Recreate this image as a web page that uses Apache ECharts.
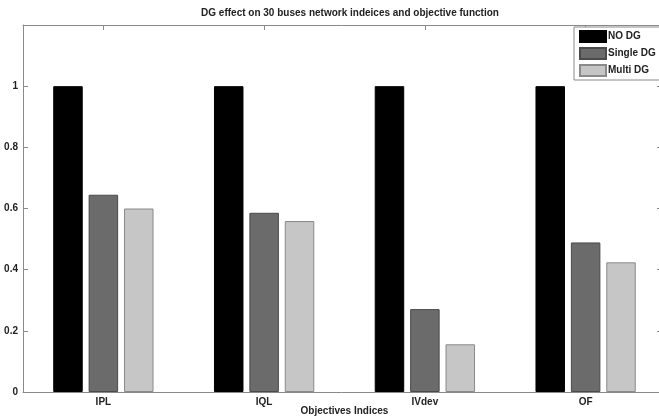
<!DOCTYPE html>
<html>
<head>
<meta charset="utf-8">
<script src="https://cdn.jsdelivr.net/npm/echarts@6/dist/echarts.min.js"></script>
<style>
  html, body { margin: 0; padding: 0; background: #fff; }
  #chart { width: 659px; height: 418px; }
</style>
</head>
<body>
<div id="chart"></div>
<script>
// Normalised indices for each case, per objective
const categories = ['IPL', 'IQL', 'IVdev', 'OF'];
const seriesNames = ['NO DG', 'Single DG', 'Multi DG'];
const noDG = [1, 1, 1, 1];
const singleDG = [0.645, 0.586, 0.271, 0.489];
const multiDG = [0.600, 0.559, 0.156, 0.424];
const yTicks = [0, 0.2, 0.4, 0.6, 0.8, 1];

const FONT = 'Liberation Sans, Arial, sans-serif';
const AXIS_GREY = '#8a8a8a';

const chart = echarts.init(document.getElementById('chart'), null, { renderer: 'canvas' });

const barStyle = [
  { color: '#000000', borderColor: '#000000' },
  { color: '#6b6b6b', borderColor: '#4a4a4a' },
  { color: '#c6c6c6', borderColor: '#8a8a8a' }
];
const values = [noDG, singleDG, multiDG];

chart.setOption({
  animation: false,
  backgroundColor: '#ffffff',
  title: {
    text: 'DG effect on 30 buses network indeices and objective function',
    left: 345,
    top: 3,
    textAlign: 'center',
    textStyle: { fontFamily: FONT, fontSize: 10, fontWeight: 'bold', color: '#222' }
  },
  legend: {
    data: seriesNames,
    orient: 'vertical',
    left: 574,
    top: 27,
    icon: 'rect',
    itemWidth: 26,
    itemHeight: 11,
    itemGap: 4,
    padding: [3, 30, 3, 5],
    backgroundColor: '#ffffff',
    borderColor: AXIS_GREY,
    borderWidth: 1,
    borderRadius: 0,
    textStyle: { fontFamily: FONT, fontSize: 10, fontWeight: 'bold', color: '#222', padding: [0, 0, 0, -3] }
  },
  grid: { left: 23, top: 25, width: 643, height: 367, containLabel: false, outerBoundsMode: 'none' },
  xAxis: [
    {
      type: 'category',
      data: categories,
      position: 'bottom',
      name: 'Objectives Indices',
      nameLocation: 'middle',
      nameGap: 14,
      nameMoveOverlap: false,
      nameTextStyle: { fontFamily: FONT, fontSize: 10, fontWeight: 'bold', color: '#222' },
      axisLine: { onZero: false, lineStyle: { color: AXIS_GREY, width: 1 } },
      axisTick: { show: true, inside: true, alignWithLabel: true, length: 5, lineStyle: { color: AXIS_GREY } },
      axisLabel: { fontFamily: FONT, fontSize: 10, fontWeight: 'bold', color: '#222', margin: 5 },
      splitLine: { show: false }
    },
    {
      type: 'category',
      data: categories,
      position: 'top',
      axisLine: { show: true, onZero: false, lineStyle: { color: AXIS_GREY, width: 1 } },
      axisTick: { show: true, inside: true, alignWithLabel: true, length: 5, lineStyle: { color: AXIS_GREY } },
      axisLabel: { show: false },
      splitLine: { show: false }
    }
  ],
  yAxis: [
    {
      type: 'value',
      min: 0,
      max: 1.2,
      interval: 0.2,
      position: 'left',
      axisLine: { show: true, onZero: false, lineStyle: { color: AXIS_GREY, width: 1 } },
      axisTick: { show: true, inside: true, length: 5, lineStyle: { color: AXIS_GREY } },
      axisLabel: {
        fontFamily: FONT, fontSize: 10, fontWeight: 'bold', color: '#222', margin: 5,
        formatter: v => {
          const t = yTicks.find(x => Math.abs(x - v) < 1e-9);
          return t === undefined ? '' : String(t);
        }
      },
      splitLine: { show: false }
    },
    {
      type: 'value',
      min: 0,
      max: 1.2,
      interval: 0.2,
      position: 'right',
      offset: -4,
      axisLine: { show: true, onZero: false, lineStyle: { color: AXIS_GREY, width: 1 } },
      axisTick: { show: true, inside: true, length: 5, lineStyle: { color: AXIS_GREY } },
      axisLabel: { show: false },
      splitLine: { show: false }
    }
  ],
  series: seriesNames.map((name, i) => ({
    name: name,
    type: 'bar',
    xAxisIndex: 0,
    yAxisIndex: 0,
    data: values[i],
    barWidth: 29.5,
    barGap: '20%',
    itemStyle: { color: barStyle[i].color, borderColor: barStyle[i].borderColor, borderWidth: 1 },
    emphasis: { disabled: true }
  }))
});
</script>
</body>
</html>
